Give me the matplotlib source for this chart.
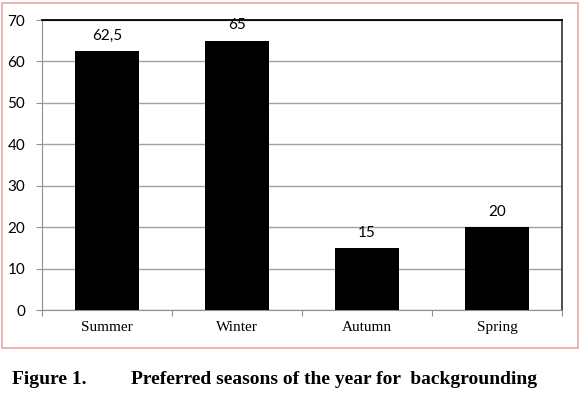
import matplotlib.pyplot as plt
from matplotlib.patches import Rectangle

# Estações do ano e percentuais
seasons = ['Summer', 'Winter', 'Autumn', 'Spring']
values = [62.5, 65, 15, 20]
value_labels = ['62,5', '65', '15', '20']
yticks = [0, 10, 20, 30, 40, 50, 60, 70]

fig = plt.figure(figsize=(5.8, 3.97), dpi=100)
ax = fig.add_axes([42 / 580, 1 - 310 / 397, 520 / 580, 290 / 397])

# Moldura rosa em volta do gráfico
fig.patches.append(Rectangle((2 / 580, 1 - 348 / 397), 576 / 580, 345 / 397,
                             transform=fig.transFigure, fill=False,
                             edgecolor='#e8a8a8', linewidth=1.2))

x = range(len(seasons))
ax.bar(x, values, width=0.49, color='black', zorder=3)
for xi, v, lab in zip(x, values, value_labels):
    ax.text(xi, v + 2.0, lab, ha='center', va='bottom', fontsize=11,
            family='Lato', zorder=4)

ax.set_xlim(-0.5, 3.5)
ax.set_ylim(0, 70)
ax.set_yticks(yticks)
ax.set_yticklabels([str(t) for t in yticks], family='Lato', fontsize=11)
ax.yaxis.grid(True, color='#a0a0a0', linewidth=1, zorder=0)

# rótulos das categorias entre os ticks
ax.set_xticks([-0.5, 0.5, 1.5, 2.5, 3.5])
ax.set_xticklabels([])
ax.set_xticks(list(x), minor=True)
ax.set_xticklabels(seasons, minor=True, family='Liberation Serif', fontsize=11)
ax.tick_params(axis='x', which='minor', length=0, pad=8)
ax.tick_params(axis='x', which='major', length=4, color='#909090', direction='out')
ax.tick_params(axis='y', length=4, color='#909090', pad=8)

ax.spines['left'].set_color('#909090')
ax.spines['bottom'].set_color('#909090')
ax.spines['top'].set_color('black')
ax.spines['top'].set_linewidth(1.3)
ax.spines['right'].set_color('#404040')
ax.spines['right'].set_linewidth(1.3)

fig.text(12 / 580, 1 - 379 / 397, 'Figure 1.', family='Liberation Serif',
         fontweight='bold', fontsize=14, va='center')
fig.text(131 / 580, 1 - 379 / 397, 'Preferred seasons of the year for  backgrounding',
         family='Liberation Serif', fontweight='bold', fontsize=14, va='center')

fig.savefig('out.png', dpi=100)
